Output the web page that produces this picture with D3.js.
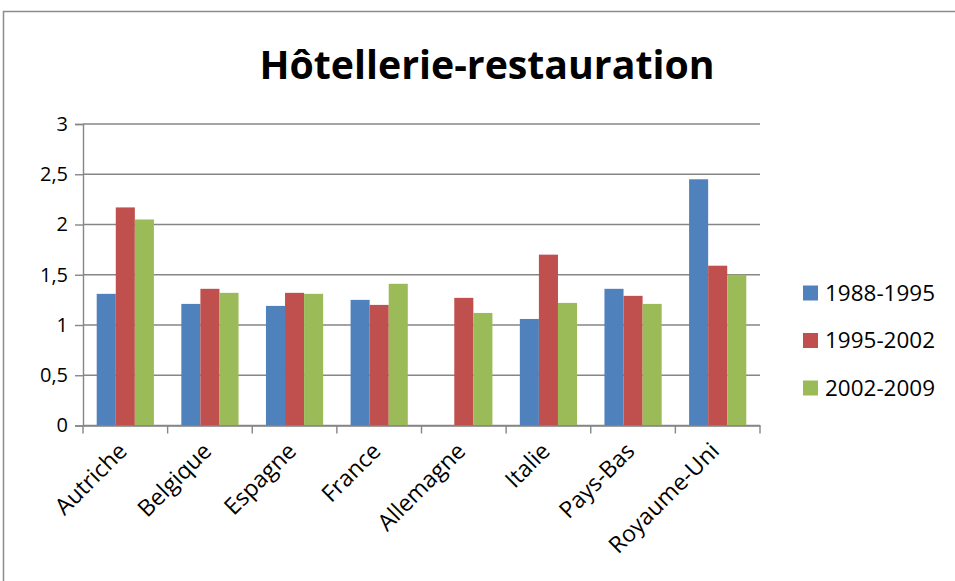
<!DOCTYPE html>
<html><head><meta charset="utf-8">
<script src="https://cdn.jsdelivr.net/npm/d3@7"></script>
<style>
body{margin:0;background:#fff;}
text{font-family:"Open Sans","Noto Sans",sans-serif;fill:#000;}
</style></head>
<body><svg id="c" width="955" height="581"></svg>
<script>
const categories = ["Autriche","Belgique","Espagne","France","Allemagne","Italie","Pays-Bas","Royaume-Uni"];
const seriesNames = ["1988-1995","1995-2002","2002-2009"];
const s1988 = [1.31,1.21,1.19,1.25,null,1.06,1.36,2.45];
const s1995 = [2.17,1.36,1.32,1.20,1.27,1.70,1.29,1.59];
const s2002 = [2.05,1.32,1.31,1.41,1.12,1.22,1.21,1.50];
const yTicks = [0,0.5,1,1.5,2,2.5,3];
const colors = ["#4F81BD","#C0504D","#9BBB59"];
const title = "Hôtellerie-restauration";

const series = [s1988,s1995,s2002];
const svg = d3.select("#c");
const L=83, R=760, T=124, B=425.5;

svg.append("rect").attr("x",3.5).attr("y",11.5).attr("width",1000).attr("height",600)
  .attr("fill","#fff").attr("stroke","#8c8c8c").attr("stroke-width",1.5);

svg.append("text").attr("x",487).attr("y",79).attr("text-anchor","middle")
  .attr("font-size",40).attr("font-weight","bold")
  .attr("textLength",455).attr("lengthAdjust","spacingAndGlyphs").text(title);

const y = d3.scaleLinear().domain([0,3]).range([B,T]);
const x0 = d3.scaleBand().domain(categories).range([L,R]).padding(0);
const step = x0.step();
const off = step*0.162;
const x1 = d3.scaleBand().domain(seriesNames).range([off, step-off]).padding(0);

// gridlines
svg.append("g").selectAll("line").data(yTicks).join("line")
  .attr("x1",L).attr("x2",R).attr("y1",d=>y(d)).attr("y2",d=>y(d))
  .attr("stroke","#868686").attr("stroke-width",1.4);

// y axis
const yAxis = d3.axisLeft(y).tickValues(yTicks).tickSize(8).tickPadding(7)
  .tickFormat(d=>String(d).replace(".",","));
const gy = svg.append("g").attr("transform",`translate(${L},0)`).call(yAxis);
gy.select(".domain").attr("stroke","#868686").attr("stroke-width",1.4);
gy.selectAll(".tick line").attr("stroke","#868686").attr("stroke-width",1.4);
gy.selectAll(".tick text").attr("font-size",20).attr("font-family","'Open Sans',sans-serif").attr("fill","#000");

// bars
const groups = svg.append("g").selectAll("g").data(categories).join("g")
  .attr("transform",d=>`translate(${x0(d)},0)`);
groups.selectAll("rect").data((c,i)=>series.map((s,k)=>({k,v:s[i]})).filter(d=>d.v!=null)).join("rect")
  .attr("x",d=>x1(seriesNames[d.k])).attr("width",x1.bandwidth())
  .attr("y",d=>y(d.v)).attr("height",d=>B-y(d.v))
  .attr("fill",d=>colors[d.k]);

// x axis
const xAxis = d3.axisBottom(x0).tickSize(0).tickFormat("");
const gx = svg.append("g").attr("transform",`translate(0,${B})`).call(xAxis);
gx.select(".domain").attr("stroke","#868686").attr("stroke-width",1.4);
const edges = d3.range(categories.length+1).map(i=>L+i*step);
svg.append("g").selectAll("line").data(edges).join("line")
  .attr("x1",d=>d).attr("x2",d=>d).attr("y1",B).attr("y2",B+8)
  .attr("stroke","#868686").attr("stroke-width",1.4);

svg.append("g").selectAll("text").data(categories).join("text")
  .attr("text-anchor","end").attr("font-size",23)
  .attr("transform",d=>`translate(${x0(d)+step/2+3},${B+27}) rotate(-45)`)
  .text(d=>d);

// legend
const lg = svg.append("g").selectAll("g").data(seriesNames).join("g")
  .attr("transform",(d,i)=>`translate(803,${293+i*47.5})`);
lg.append("rect").attr("x",0).attr("y",-7.5).attr("width",15).attr("height",15).attr("fill",(d,i)=>colors[i]);
lg.append("text").attr("x",22).attr("y",7.5).attr("font-size",21)
  .attr("textLength",110).attr("lengthAdjust","spacingAndGlyphs").text(d=>d);
</script></body></html>
